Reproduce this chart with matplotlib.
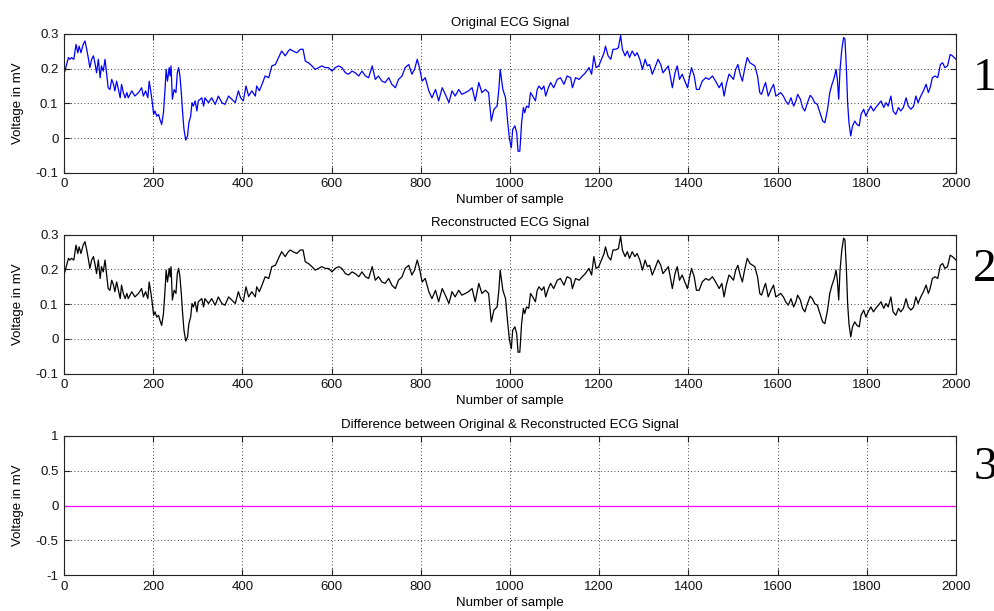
import numpy as np
import matplotlib
matplotlib.use("Agg")
import matplotlib.pyplot as plt

# ---- data (sample index, voltage in mV) ----
samples = [0, 4, 10, 13, 17, 22, 27, 31, 34, 38, 43, 47, 51, 55, 58, 62, 66, 70, 73, 77,
           81, 84, 88, 92, 96, 99, 103, 107, 111, 114, 118, 122, 126, 129, 133, 137, 141, 144, 152, 159,
           167, 174, 178, 183, 188, 191, 195, 198, 201, 204, 208, 212, 215, 219, 223, 227, 229, 232, 236, 238,
           240, 243, 247, 251, 254, 257, 260, 263, 266, 269, 273, 277, 280, 284, 287, 290, 294, 298, 301, 309,
           313, 316, 324, 331, 339, 346, 354, 361, 369, 376, 384, 391, 396, 402, 408, 414, 421, 429, 432, 438,
           444, 451, 459, 466, 474, 481, 488, 496, 503,
           507, 515, 522, 530, 536, 541, 548, 556, 563, 571, 578, 586, 593, 601, 608, 616, 623, 631, 638, 646,
           653, 661, 668, 676, 683, 691, 698, 705, 713, 720, 728, 735, 743, 750, 758, 765, 773, 780, 786, 792,
           797, 803, 810, 818, 825, 833, 840, 848, 855, 863, 870, 877, 885, 892, 900, 907, 915, 922, 930, 937,
           945, 952, 958, 964, 971, 975, 978, 984, 990, 995,
           999, 1003, 1006, 1011, 1015, 1018, 1022, 1026, 1030, 1033, 1037, 1042, 1046, 1051, 1057, 1061, 1065, 1071, 1076, 1080,
           1086, 1091, 1098, 1106, 1113, 1121, 1128, 1136, 1140, 1147, 1155, 1162, 1169, 1177, 1183, 1188, 1193, 1199, 1205, 1211,
           1214, 1220, 1226, 1231, 1237, 1243, 1248, 1252, 1258, 1263, 1268, 1274, 1280, 1285, 1291, 1297, 1303, 1308, 1313, 1319,
           1325, 1332, 1338, 1343, 1349, 1355, 1360, 1364, 1370, 1375, 1380, 1386, 1392, 1398, 1403, 1407, 1413, 1418, 1424, 1431,
           1439, 1446, 1454, 1461, 1469, 1475, 1480, 1485, 1491,
           1495, 1501, 1506, 1511, 1516, 1521, 1526, 1532, 1538, 1544, 1549, 1555, 1560, 1564, 1570, 1573, 1579, 1585, 1591, 1596,
           1602, 1607, 1613, 1618, 1624, 1630, 1636, 1641, 1645, 1651, 1656, 1661, 1667, 1673, 1678, 1683, 1689, 1695, 1701, 1706,
           1712, 1717, 1722, 1727, 1731, 1734, 1737, 1740, 1744, 1748, 1751, 1754, 1757, 1760, 1764, 1768, 1773, 1778, 1783, 1787,
           1793, 1798, 1803, 1809, 1815, 1820, 1826, 1832, 1838, 1843, 1848, 1854, 1859, 1865, 1871, 1876, 1882, 1888, 1893, 1899,
           1905, 1910, 1915, 1921, 1927, 1933, 1938, 1942, 1947, 1953, 1959, 1965, 1970, 1975, 1981, 1987, 1992, 2000]

original = [0.184, 0.203, 0.232, 0.227, 0.232, 0.227, 0.270, 0.246, 0.265, 0.246, 0.270, 0.280, 0.256, 0.227, 0.203, 0.227, 0.237, 0.212, 0.188, 0.227,
            0.174, 0.208, 0.193, 0.227, 0.179, 0.145, 0.140, 0.169, 0.155, 0.136, 0.164, 0.140, 0.116, 0.155, 0.131, 0.116, 0.131, 0.116, 0.136, 0.121,
            0.131, 0.145, 0.121, 0.136, 0.116, 0.164, 0.131, 0.102, 0.068, 0.078, 0.063, 0.068, 0.054, 0.039, 0.073, 0.150, 0.198, 0.164, 0.203, 0.179,
            0.208, 0.112, 0.140, 0.131, 0.188, 0.203, 0.179, 0.131, 0.073, 0.025, -0.006, 0.006, 0.044, 0.063, 0.102, 0.092, 0.107, 0.078, 0.107, 0.116,
            0.092, 0.116, 0.102, 0.116, 0.097, 0.121, 0.102, 0.097, 0.121, 0.112, 0.102, 0.136, 0.116, 0.107, 0.150, 0.121, 0.136, 0.121, 0.150, 0.136,
            0.155, 0.179, 0.174, 0.208, 0.212, 0.232, 0.251, 0.237, 0.251,
            0.256, 0.250, 0.246, 0.256, 0.256, 0.222, 0.217, 0.208, 0.198, 0.203, 0.208, 0.203, 0.203, 0.193, 0.203, 0.208, 0.203, 0.188, 0.184, 0.193,
            0.188, 0.179, 0.193, 0.179, 0.174, 0.208, 0.169, 0.179, 0.164, 0.160, 0.174, 0.155, 0.145, 0.169, 0.179, 0.203, 0.212, 0.184, 0.198, 0.227,
            0.203, 0.164, 0.174, 0.136, 0.116, 0.140, 0.107, 0.145, 0.126, 0.102, 0.136, 0.121, 0.140, 0.126, 0.131, 0.136, 0.145, 0.107, 0.160, 0.131,
            0.140, 0.131, 0.049, 0.083, 0.092, 0.140, 0.198, 0.140, 0.116, 0.044,
            -0.004, -0.028, 0.025, 0.035, 0.015, -0.038, -0.038, 0.044, 0.088, 0.073, 0.092, 0.088, 0.131, 0.121, 0.107, 0.140, 0.150, 0.140, 0.150, 0.121,
            0.145, 0.160, 0.145, 0.169, 0.174, 0.155, 0.179, 0.174, 0.145, 0.174, 0.169, 0.179, 0.188, 0.203, 0.184, 0.237, 0.203, 0.208, 0.227, 0.246,
            0.265, 0.237, 0.227, 0.256, 0.256, 0.260, 0.296, 0.256, 0.237, 0.251, 0.232, 0.251, 0.237, 0.246, 0.227, 0.198, 0.227, 0.208, 0.212, 0.184,
            0.203, 0.227, 0.212, 0.188, 0.198, 0.208, 0.174, 0.145, 0.188, 0.208, 0.169, 0.184, 0.164, 0.145, 0.179, 0.203, 0.179, 0.140, 0.140, 0.164,
            0.174, 0.169, 0.179, 0.164, 0.145, 0.160, 0.121, 0.155, 0.184,
            0.179, 0.169, 0.198, 0.212, 0.184, 0.164, 0.198, 0.232, 0.217, 0.212, 0.208, 0.179, 0.131, 0.126, 0.150, 0.160, 0.121, 0.140, 0.155, 0.121,
            0.126, 0.131, 0.121, 0.107, 0.097, 0.116, 0.092, 0.107, 0.126, 0.112, 0.088, 0.078, 0.102, 0.123, 0.116, 0.102, 0.097, 0.073, 0.049, 0.044,
            0.083, 0.131, 0.155, 0.174, 0.198, 0.169, 0.112, 0.198, 0.256, 0.290, 0.285, 0.208, 0.102, 0.044, 0.006, 0.035, 0.049, 0.039, 0.035, 0.068,
            0.083, 0.063, 0.078, 0.092, 0.078, 0.088, 0.097, 0.107, 0.088, 0.102, 0.092, 0.121, 0.078, 0.068, 0.088, 0.078, 0.088, 0.116, 0.092, 0.083,
            0.092, 0.121, 0.102, 0.121, 0.136, 0.155, 0.131, 0.145, 0.174, 0.179, 0.174, 0.212, 0.217, 0.203, 0.208, 0.241, 0.237, 0.227]

# reconstruction is identical to the original in the reference
reconstructed = list(original)
difference = [o - r for o, r in zip(original, reconstructed)]

xticks = [0, 200, 400, 600, 800, 1000, 1200, 1400, 1600, 1800, 2000]
yticks_sig = [-0.1, 0, 0.1, 0.2, 0.3]
yticklabels_sig = ["-0.1", "0", "0.1", "0.2", "0.3"]
yticks_diff = [-1, -0.5, 0, 0.5, 1]
yticklabels_diff = ["-1", "-0.5", "0", "0.5", "1"]
titles = ["Original ECG Signal", "Reconstructed ECG Signal",
          "Difference between Original & Reconstructed ECG Signal"]
panel_numbers = ["1", "2", "3"]

plt.rcParams["font.family"] = ["Liberation Sans", "DejaVu Sans"]
plt.rcParams["font.size"] = 9.5

W, H = 995, 611
fig = plt.figure(figsize=(W / 100, H / 100), dpi=100)
fig.patch.set_facecolor("white")

left_px, right_px = 64, 956
panels_px = [(34, 172.7), (234.7, 373.7), (436, 575)]
series = [(original, "#0000ff"), (reconstructed, "#000000"), (difference, "#ff00ff")]
num_y = [79, 270, 468]

for i, ((top, bot), (vals, col)) in enumerate(zip(panels_px, series)):
    ax = fig.add_axes([left_px / W, 1 - bot / H, (right_px - left_px) / W, (bot - top) / H])
    ax.plot(samples, vals, color=col, lw=0.9)
    ax.set_xlim(0, 2000)
    ax.set_xticks(xticks)
    ax.set_xticklabels([str(t) for t in xticks])
    if i < 2:
        ax.set_ylim(-0.1, 0.3)
        ax.set_yticks(yticks_sig)
        ax.set_yticklabels(yticklabels_sig)
    else:
        ax.set_ylim(-1, 1)
        ax.set_yticks(yticks_diff)
        ax.set_yticklabels(yticklabels_diff)
    ax.grid(True, color="black", linestyle=(0, (1, 3)), linewidth=0.6)
    ax.tick_params(direction="in", top=True, right=True, length=4, width=0.8,
                   colors="#222222", labelcolor="#111111", pad=4)
    for sp in ax.spines.values():
        sp.set_color("#222222")
        sp.set_linewidth(0.8)
    ax.set_title(titles[i], fontsize=9.5, pad=6)
    ax.set_xlabel("Number of sample", fontsize=9.5, labelpad=3)
    ax.set_ylabel("Voltage in mV", fontsize=9.5)
    ax.yaxis.set_label_coords((24 - left_px) / (right_px - left_px), 0.5)
    fig.text(985 / W, 1 - num_y[i] / H, panel_numbers[i], fontsize=34,
             family="Liberation Serif", ha="center", va="center")

fig.savefig("out.png", dpi=100, facecolor="white")
